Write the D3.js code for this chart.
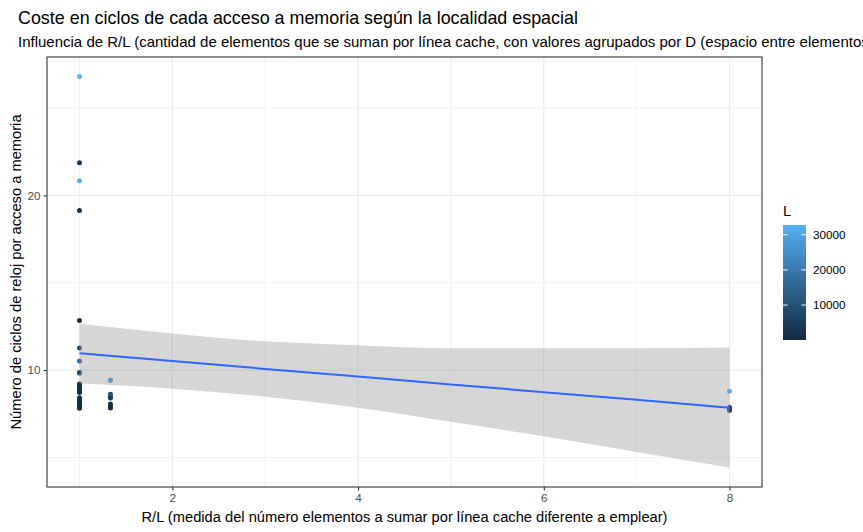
<!DOCTYPE html>
<html>
<head>
<meta charset="utf-8">
<script src="https://cdn.jsdelivr.net/npm/d3@7"></script>
<style>
  html, body { margin: 0; padding: 0; background: #fff; }
  svg { display: block; font-family: "Liberation Sans", Arial, sans-serif; }
</style>
</head>
<body>
<svg id="chart" width="863" height="532"></svg>
<script>
// ---- Data ----
const rl = [
  1, 1, 1, 1, 1, 1, 1, 1, 1,
  1, 1, 1, 1, 1, 1,
  1, 1, 1, 1, 1, 1, 1,
  1.3333, 1.3333, 1.3333, 1.3333, 1.3333, 1.3333, 1.3333,
  8, 8, 8, 8, 8
];
const ciclos = [
  26.80, 21.87, 20.84, 19.13, 12.84, 11.27, 10.52, 9.80, 9.86,
  9.20, 9.10, 9.00, 8.90, 8.80, 8.72,
  8.42, 8.30, 8.20, 8.10, 8.00, 7.90, 7.82,
  9.42, 8.62, 8.50, 8.40, 8.06, 7.95, 7.83,
  8.79, 7.88, 7.80, 7.72, 7.70
];
const L = [
  32768, 4096, 32768, 2048, 1024, 8192, 16384, 32768, 6144,
  512, 1024, 256, 2048, 512, 256,
  256, 512, 128, 1024, 256, 64, 128,
  24576, 8192, 12288, 4096, 2048, 1024, 512,
  32768, 16384, 4096, 2048, 8192
];

// linear smooth (lm) with 95% confidence band
const smoothX  = [1, 2, 3, 4, 5, 6, 7, 8];
const smoothFit = [10.96, 10.52, 10.07, 9.63, 9.18, 8.74, 8.30, 7.85];
const smoothLo  = [9.23, 8.94, 8.48, 7.85, 7.04, 6.21, 5.31, 4.43];
const smoothHi  = [12.65, 12.10, 11.65, 11.42, 11.25, 11.25, 11.25, 11.29];

const xTicks = [2, 4, 6, 8];
const xMinor = [1, 3, 5, 7];
const yTicks = [10, 20];
const yMinor = [5, 15, 25];
const legendTicks = [10000, 20000, 30000];

const titleText = "Coste en ciclos de cada acceso a memoria según la localidad espacial";
const subtitleText = "Influencia de R/L (cantidad de elementos que se suman por línea cache, con valores agrupados por D (espacio entre elementos)";
const xTitle = "R/L (medida del número elementos a sumar por línea cache diferente a emplear)";
const yTitle = "Número de ciclos de reloj por acceso a memoria";
const legendTitle = "L";

// ---- Layout ----
const svg = d3.select("#chart");
const panel = { left: 47, right: 762, top: 57, bottom: 487 };

const xExt = d3.extent(rl);
const xPad = (xExt[1] - xExt[0]) * 0.05;
const x = d3.scaleLinear().domain([xExt[0] - xPad, xExt[1] + xPad]).range([panel.left, panel.right]);

const yAll = ciclos.concat(smoothLo, smoothHi);
const yExt = d3.extent(yAll);
const yPad = (yExt[1] - yExt[0]) * 0.05;
const y = d3.scaleLinear().domain([yExt[0] - yPad, yExt[1] + yPad]).range([panel.bottom, panel.top]);

const lExt = [64, 32768];
const colorInterp = d3.interpolateLab("#132B43", "#56B1F7");
const color = d3.scaleSequential(colorInterp).domain(lExt);

// panel background
svg.append("rect").attr("x", panel.left).attr("y", panel.top)
  .attr("width", panel.right - panel.left).attr("height", panel.bottom - panel.top)
  .attr("fill", "#fff");

const grid = svg.append("g");
// minor grid
grid.selectAll(".xm").data(xMinor).join("line")
  .attr("x1", d => x(d)).attr("x2", d => x(d))
  .attr("y1", panel.top).attr("y2", panel.bottom)
  .attr("stroke", "#EBEBEB").attr("stroke-width", 0.6);
grid.selectAll(".ym").data(yMinor).join("line")
  .attr("y1", d => y(d)).attr("y2", d => y(d))
  .attr("x1", panel.left).attr("x2", panel.right)
  .attr("stroke", "#EBEBEB").attr("stroke-width", 0.6);
// major grid
grid.selectAll(".xM").data(xTicks).join("line")
  .attr("x1", d => x(d)).attr("x2", d => x(d))
  .attr("y1", panel.top).attr("y2", panel.bottom)
  .attr("stroke", "#EBEBEB").attr("stroke-width", 1.1);
grid.selectAll(".yM").data(yTicks).join("line")
  .attr("y1", d => y(d)).attr("y2", d => y(d))
  .attr("x1", panel.left).attr("x2", panel.right)
  .attr("stroke", "#EBEBEB").attr("stroke-width", 1.1);

// points
const pts = rl.map((d, i) => ({ x: d, y: ciclos[i], l: L[i] }));
svg.append("g").selectAll("circle").data(pts).join("circle")
  .attr("cx", d => x(d.x)).attr("cy", d => y(d.y)).attr("r", 2.5)
  .attr("fill", d => color(d.l));

// ribbon
const sm = smoothX.map((d, i) => ({ x: d, f: smoothFit[i], lo: smoothLo[i], hi: smoothHi[i] }));
svg.append("path").datum(sm)
  .attr("d", d3.area().x(d => x(d.x)).y0(d => y(d.lo)).y1(d => y(d.hi)).curve(d3.curveMonotoneX))
  .attr("fill", "#999999").attr("fill-opacity", 0.4);
svg.append("path").datum(sm)
  .attr("d", d3.line().x(d => x(d.x)).y(d => y(d.f)))
  .attr("fill", "none").attr("stroke", "#3366FF").attr("stroke-width", 2);

// panel border
svg.append("rect").attr("x", panel.left).attr("y", panel.top)
  .attr("width", panel.right - panel.left).attr("height", panel.bottom - panel.top)
  .attr("fill", "none").attr("stroke", "#333333").attr("stroke-width", 1.1);

// axes
const xAxis = d3.axisBottom(x).tickValues(xTicks).tickFormat(d3.format("d")).tickSize(3.5).tickPadding(3);
const gx = svg.append("g").attr("transform", `translate(0,${panel.bottom})`).call(xAxis);
gx.select(".domain").remove();
gx.selectAll("line").attr("stroke", "#333333").attr("stroke-width", 1.1);
gx.selectAll("text").attr("fill", "#4D4D4D").style("font-size", "11.7px").style("font-family", "Liberation Sans, Arial, sans-serif");

const yAxis = d3.axisLeft(y).tickValues(yTicks).tickFormat(d3.format("d")).tickSize(3.5).tickPadding(3);
const gy = svg.append("g").attr("transform", `translate(${panel.left},0)`).call(yAxis);
gy.select(".domain").remove();
gy.selectAll("line").attr("stroke", "#333333").attr("stroke-width", 1.1);
gy.selectAll("text").attr("fill", "#4D4D4D").style("font-size", "11.7px").style("font-family", "Liberation Sans, Arial, sans-serif");

// axis titles
svg.append("text").attr("x", (panel.left + panel.right) / 2).attr("y", 522)
  .attr("text-anchor", "middle").style("font-size", "14.7px").attr("fill", "#000").text(xTitle);
svg.append("text")
  .attr("transform", `translate(21,${(panel.top + panel.bottom) / 2}) rotate(-90)`)
  .attr("text-anchor", "middle").style("font-size", "14.7px").attr("fill", "#000").text(yTitle);

// titles
svg.append("text").attr("x", 18).attr("y", 24).style("font-size", "17.9px").attr("fill", "#000").text(titleText);
svg.append("text").attr("x", 18).attr("y", 47).style("font-size", "15px").attr("fill", "#000").text(subtitleText);

// legend
const lg = { x: 783, top: 225, bottom: 340, w: 23 };
const ly = d3.scaleLinear().domain(lExt).range([lg.bottom, lg.top]);
const defs = svg.append("defs");
const grad = defs.append("linearGradient").attr("id", "lgrad")
  .attr("x1", "0").attr("y1", "1").attr("x2", "0").attr("y2", "0");
d3.range(0, 1.0001, 0.05).forEach(t => {
  grad.append("stop").attr("offset", t).attr("stop-color", colorInterp(t));
});
svg.append("text").attr("x", lg.x).attr("y", 216).style("font-size", "14.7px").attr("fill", "#000").text(legendTitle);
svg.append("rect").attr("x", lg.x).attr("y", lg.top).attr("width", lg.w).attr("height", lg.bottom - lg.top)
  .attr("fill", "url(#lgrad)");
const lt = svg.append("g");
lt.selectAll(".tl").data(legendTicks).join("line")
  .attr("x1", lg.x).attr("x2", lg.x + 4.6).attr("y1", d => ly(d)).attr("y2", d => ly(d))
  .attr("stroke", "#fff").attr("stroke-width", 1);
lt.selectAll(".tr").data(legendTicks).join("line")
  .attr("x1", lg.x + lg.w - 4.6).attr("x2", lg.x + lg.w).attr("y1", d => ly(d)).attr("y2", d => ly(d))
  .attr("stroke", "#fff").attr("stroke-width", 1);
lt.selectAll("text").data(legendTicks).join("text")
  .attr("x", lg.x + lg.w + 7).attr("y", d => ly(d)).attr("dy", "0.35em")
  .style("font-size", "11.7px").attr("fill", "#000").text(d => d);
</script>
</body>
</html>
